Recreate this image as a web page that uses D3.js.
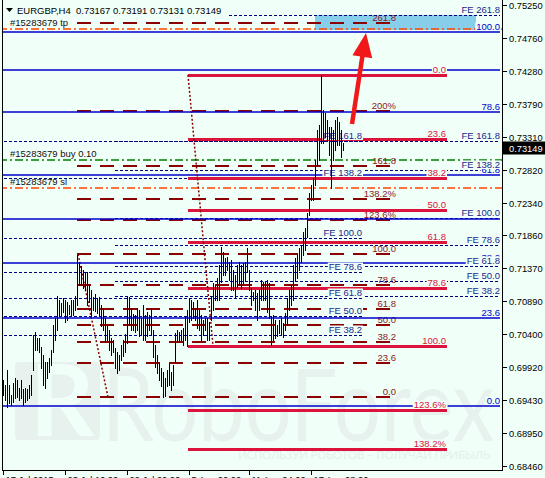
<!DOCTYPE html>
<html><head><meta charset="utf-8">
<script src="https://d3js.org/d3.v7.min.js"></script>
<style>html,body{margin:0;padding:0;background:#F0FFF8;overflow:hidden}svg{display:block}</style>
</head><body>
<svg id="chart" width="545" height="478"></svg>
<script>
// ---------------- DATA ----------------
const barHigh=[0.6973,0.6965,0.6987,0.6965,0.6951,0.6968,0.6976,0.6973,0.6961,0.6973,
0.6959,0.6961,0.6959,0.6965,0.6980,0.7039,0.7043,0.7035,0.7035,0.7021,
0.7010,0.6999,0.6999,0.7005,0.7017,0.7054,0.7064,0.7096,0.7091,0.7086,
0.7093,0.7091,0.7088,0.7083,0.7091,0.7091,0.7096,0.7157,0.7147,0.7141,
0.7135,0.7132,0.7132,0.7113,0.7105,0.7095,0.7099,0.7093,0.7095,0.7083,
0.7079,0.7064,0.7052,0.7046,0.7035,0.7032,0.7020,0.7014,0.7010,0.7024,
0.7032,0.7040,0.7095,0.7095,0.7079,0.7070,0.7068,0.7079,0.7076,0.7064,
0.7083,0.7068,0.7073,0.7068,0.7079,0.7046,0.7024,0.7010,0.6998,0.6990,
0.6985,0.6976,0.6987,0.6996,0.6985,0.6995,0.7042,0.7046,0.7043,0.7046,
0.7049,0.7065,0.7076,0.7093,0.7091,0.7088,0.7079,0.7091,0.7076,0.7068,
0.7061,0.7064,0.7064,0.7058,0.7096,0.7116,0.7113,0.7123,0.7142,0.7169,
0.7161,0.7152,0.7154,0.7147,0.7149,0.7135,0.7127,0.7142,0.7147,0.7142,
0.7145,0.7147,0.7167,0.7135,0.7108,0.7102,0.7105,0.7101,0.7105,0.7120,
0.7117,0.7117,0.7120,0.7116,0.7065,0.7068,0.7061,0.7054,0.7061,0.7064,
0.7057,0.7071,0.7093,0.7105,0.7113,0.7142,0.7152,0.7157,0.7167,0.7172,
0.7191,0.7196,0.7219,0.7248,0.7260,0.7270,0.7297,0.7341,0.7348,0.7422,
0.7370,0.7366,0.7356,0.7345,0.7345,0.7341,0.7356,0.7360,0.7353,0.7341,
0.7322];
const barLow=[0.6951,0.6943,0.6933,0.6939,0.6936,0.6940,0.6946,0.6948,0.6943,0.6946,
0.6936,0.6940,0.6943,0.6946,0.6951,0.6987,0.7017,0.7017,0.7014,0.6990,
0.6965,0.6961,0.6976,0.6985,0.6995,0.7014,0.7032,0.7046,0.7068,0.7068,
0.7073,0.7058,0.7061,0.7070,0.7067,0.7068,0.7076,0.7083,0.7113,0.7113,
0.7108,0.7105,0.7083,0.7088,0.7067,0.7076,0.7074,0.7071,0.7068,0.7052,
0.7046,0.7029,0.7032,0.7017,0.7010,0.7014,0.6990,0.6983,0.6987,0.7002,
0.7008,0.7014,0.7027,0.7054,0.7046,0.7046,0.7043,0.7046,0.7037,0.7040,
0.7032,0.7032,0.7037,0.7046,0.7039,0.7007,0.6992,0.6983,0.6973,0.6964,
0.6948,0.6949,0.6964,0.6965,0.6958,0.6965,0.6999,0.7029,0.7029,0.7032,
0.7024,0.7032,0.7023,0.7058,0.7061,0.7064,0.7061,0.7049,0.7046,0.7032,
0.7039,0.7046,0.7032,0.7032,0.7061,0.7076,0.7091,0.7091,0.7091,0.7117,
0.7127,0.7127,0.7135,0.7120,0.7105,0.7105,0.7093,0.7110,0.7113,0.7108,
0.7116,0.7120,0.7132,0.7105,0.7083,0.7091,0.7076,0.7061,0.7076,0.7091,
0.7091,0.7091,0.7073,0.7064,0.7024,0.7032,0.7035,0.7037,0.7042,0.7039,
0.7036,0.7046,0.7054,0.7076,0.7083,0.7091,0.7120,0.7123,0.7135,0.7147,
0.7157,0.7164,0.7183,0.7216,0.7238,0.7238,0.7260,0.7289,0.7297,0.7322,
0.7322,0.7331,0.7326,0.7304,0.7255,0.7297,0.7311,0.7319,0.7319,0.7301,
0.7312];

const priceTicks=[0.75250,0.74760,0.74280,0.73790,0.73310,0.72820,0.72340,0.71860,0.71370,0.70890,0.70400,0.69920,0.69430,0.68950,0.68460];
const timeTickBars=[0,31,62,93,123,154];
const timeTickLabels=["17 Jul 2015","23 Jul 16:00","29 Jul 20:00","5 Aug 00:00","11 Aug 04:00","17 Aug 08:00"];
const lastPrice=0.73149;
const titleSymbol="EURGBP,H4";
const titleQuotes=["0.73167","0.73191","0.73131","0.73149"];

// Fibonacci tools: anchors = prices at 0% and 100%; spans in bar indices
const redFibLevels=[0,23.6,38.2,50,61.8,78.6,100,123.6,138.2];
const redFibLabels=["0.0","23.6","38.2","50.0","61.8","78.6","100.0","123.6%","138.2%"];
const redFibAnchors=[0.7422,0.7023];
const redFibBars=[92.5,222];
const redFibTrendBars=[92.5,105];

const maroonFibLevels=[0,23.6,38.2,50,61.8,78.6,100,123.6,138.2,161.8,200,261.8];
const maroonFibLabels=["0.0","23.6","38.2","50.0","61.8","78.6","100.0","123.6%","138.2%","161.8","200%","261.8"];
const maroonFibAnchors=[0.69476,0.71583];
const maroonFibBars=[37,196.5];
const maroonFibTrendBars=[52.5,37.5];

const feOuterLevels=[38.2,50,61.8,78.6,100,138.2,161.8,261.8];
const feOuterAnchors=[0.70257,0.72108];
const feOuterStartBars=[56,56,56,56,56,56,56,113];
const feOuterEndBar=248.5;

const feInnerLevels=[38.2,50,61.8,78.6,100,138.2,161.8];
const feInnerAnchors=[0.69506,0.71818];
const feInnerBars=[-2,179.5];

const blueFibLevels=[0,23.6,38.2,50,61.8,78.6,100];
const blueFibLabels=["0.0","23.6","38.2","50.0","61.8","78.6","100.0"];
const blueFibAnchors=[0.69344,0.74853];
const blueFibBars=[-2,248.5];
const blueExtraLevel=0.7429;

const orderPrices=[0.7489,0.7297,0.7255];
const orderLabels=["#15283679 tp","#15283679 buy 0.10","#15283679 sl"];

const targetZone=[0.75103,0.74882];
const targetZoneBars=[156,236.5];
const arrowFrom=[174.5,0.73497];
const arrowTo=[181.5,0.74838];

// ---------------- DRAW ----------------
const BG="#F0FFF8";
const WM="#E7F2EF";
const W=545,H=478;
const FONT="'Liberation Sans', Arial, sans-serif";
const svg=d3.select("#chart");
const x=d3.scaleLinear().domain([0,170]).range([3,343]);
const y=d3.scaleLinear().domain([0.68460,0.75250]).range([466,5]);
const fib=(a,l)=>a[0]+(a[1]-a[0])*l/100;
const cy=p=>Math.round(y(p))+0.5;

svg.append("rect").attr("width",W).attr("height",H).attr("fill",BG);

// watermark
const wm=svg.append("g");
wm.append("rect").attr("x",15).attr("y",362).attr("width",85).attr("height",78).attr("rx",4).attr("fill",WM);
wm.append("text").attr("x",30).attr("y",436).attr("font-family","Lato, sans-serif").attr("font-weight",700)
  .attr("font-size",100).attr("fill",BG).text("R");
wm.append("text").attr("x",102).attr("y",441).attr("font-family","Lato, sans-serif")
  .attr("font-size",100).attr("fill",WM).attr("textLength",392).attr("lengthAdjust","spacingAndGlyphs").text("RoboForex");
wm.append("text").attr("x",238).attr("y",459).attr("font-family","Lato, sans-serif")
  .attr("font-size",12).attr("fill","#E5EFED").attr("textLength",252).attr("lengthAdjust","spacingAndGlyphs").text("ИСПОЛЬЗУЙ РОБОТОВ – ПОЛУЧАЙ ПРИБЫЛЬ");

svg.append("defs").append("clipPath").attr("id","pc").append("rect")
  .attr("x",3).attr("y",0).attr("width",499).attr("height",470);
const g=svg.append("g").attr("clip-path","url(#pc)");

function hline(sel,price,b0,b1,stroke,sw,dash){
  const yy=sw%2===1?cy(price):Math.round(y(price));
  return sel.append("line").attr("x1",x(b0)).attr("x2",x(b1)).attr("y1",yy).attr("y2",yy)
    .attr("stroke",stroke).attr("stroke-width",sw).attr("stroke-dasharray",dash||null);
}
function label(sel,text,xr,price,color,bg,anchor){
  const t=sel.append("text").attr("x",xr).attr("y",Math.round(y(price))-2)
    .attr("text-anchor",anchor||"end").attr("font-family",FONT).attr("font-size",9.5)
    .attr("fill",color).text(text);
  if(bg){
    const bb=t.node().getBBox();
    sel.insert("rect",()=>t.node()).attr("x",bb.x-1).attr("y",bb.y+1.5)
      .attr("width",bb.width+2).attr("height",bb.height-2.5).attr("fill",BG);
  }
  return t;
}

// target zone
g.append("rect").attr("x",x(targetZoneBars[0])).attr("y",y(targetZone[0]))
  .attr("width",x(targetZoneBars[1])-x(targetZoneBars[0])).attr("height",y(targetZone[1])-y(targetZone[0]))
  .attr("fill","#87CEEB");

// order lines
const orderColors=["#FF4500","#008000","#FF4500"];
orderPrices.forEach((p,i)=>{
  hline(g,p,-2,250,orderColors[i],1.5,"8,3,2,3");
  g.append("text").attr("x",10).attr("y",Math.round(y(p))-3).attr("font-family",FONT)
    .attr("font-size",9.5).attr("fill","#111").text(orderLabels[i]);
});

// maroon fib (labels drawn without background)
const MAROON="#8B0000";
maroonFibLevels.forEach((l,i)=>{
  const p=fib(maroonFibAnchors,l);
  hline(g,p,maroonFibBars[0],maroonFibBars[1],MAROON,2,"14,9");
  label(g,maroonFibLabels[i],x(maroonFibBars[1]),p,"#8B1A1A",false);
});
g.append("line").attr("x1",x(maroonFibTrendBars[0])).attr("y1",y(maroonFibAnchors[0]))
  .attr("x2",x(maroonFibTrendBars[1])).attr("y2",y(maroonFibAnchors[1]))
  .attr("stroke",MAROON).attr("stroke-width",1.5).attr("stroke-dasharray","2,2");

// FE lines
const NAVY="#000080";
feInnerLevels.forEach(l=>hline(g,fib(feInnerAnchors,l),feInnerBars[0],feInnerBars[1],NAVY,1,"3,2"));
feOuterLevels.forEach((l,i)=>hline(g,fib(feOuterAnchors,l),feOuterStartBars[i],feOuterEndBar,NAVY,1,"3,2"));

// blue fib
const BLUE="#0000CD";
blueFibLevels.forEach(l=>hline(g,fib(blueFibAnchors,l),blueFibBars[0],blueFibBars[1],BLUE,1.5));
hline(g,blueExtraLevel,blueFibBars[0],blueFibBars[1],BLUE,1.5);

// red fib
const RED="#DC143C";
redFibLevels.forEach(l=>hline(g,fib(redFibAnchors,l),redFibBars[0],redFibBars[1],RED,3));
g.append("line").attr("x1",x(redFibTrendBars[0])).attr("y1",y(redFibAnchors[0]))
  .attr("x2",x(redFibTrendBars[1])).attr("y2",y(redFibAnchors[1]))
  .attr("stroke",MAROON).attr("stroke-width",1.5).attr("stroke-dasharray","2,2");

// labels with background
blueFibLevels.forEach((l,i)=>label(g,blueFibLabels[i],500,fib(blueFibAnchors,l),BLUE,true));
redFibLevels.forEach((l,i)=>label(g,redFibLabels[i],x(redFibBars[1])-1,fib(redFibAnchors,l),RED,true));
feInnerLevels.forEach(l=>label(g,"FE "+l.toFixed(1),x(feInnerBars[1]),fib(feInnerAnchors,l),"#1E1E8C",true));
feOuterLevels.forEach(l=>label(g,"FE "+l.toFixed(1),500,fib(feOuterAnchors,l),"#1E1E8C",true));

// bars
g.append("g").selectAll("line").data(barHigh).join("line")
  .attr("x1",(d,i)=>Math.round(x(i))+0.5).attr("x2",(d,i)=>Math.round(x(i))+0.5)
  .attr("y1",d=>Math.round(y(d))).attr("y2",(d,i)=>Math.round(y(barLow[i]))+1)
  .attr("stroke","#000").attr("stroke-width",1);

// arrow
{
  const x0=x(arrowFrom[0]),y0=y(arrowFrom[1]),x1=x(arrowTo[0]),y1=y(arrowTo[1]);
  const dx=x1-x0,dy=y1-y0,len=Math.hypot(dx,dy),ux=dx/len,uy=dy/len;
  const hl=24,hw=10;
  const bx=x1-ux*hl,by=y1-uy*hl;
  g.append("line").attr("x1",x0).attr("y1",y0).attr("x2",bx+ux*2).attr("y2",by+uy*2)
    .attr("stroke","#F01818").attr("stroke-width",4.5);
  g.append("path").attr("d",`M${x1},${y1}L${bx-uy*hw},${by+ux*hw}L${bx+uy*hw},${by-ux*hw}Z`)
    .attr("fill","#F01818");
}

// frame
const ax=svg.append("g").attr("stroke","#000").attr("stroke-width",1);
ax.append("line").attr("x1",2.5).attr("x2",2.5).attr("y1",0).attr("y2",471);
ax.append("line").attr("x1",502.5).attr("x2",502.5).attr("y1",0).attr("y2",471);
ax.append("line").attr("x1",2).attr("x2",503).attr("y1",470.5).attr("y2",470.5);

// y axis
priceTicks.forEach(t=>{
  const yy=cy(t);
  ax.append("line").attr("x1",503).attr("x2",507).attr("y1",yy).attr("y2",yy);
  svg.append("text").attr("x",509).attr("y",yy+3.5).attr("font-family",FONT).attr("font-size",9.3)
    .attr("fill","#000").text(t.toFixed(5));
});
// x axis
timeTickBars.forEach((b,i)=>{
  const xx=Math.round(x(b))+0.5;
  ax.append("line").attr("x1",xx).attr("x2",xx).attr("y1",471).attr("y2",475);
  svg.append("text").attr("x",xx+2).attr("y",483).attr("font-family",FONT).attr("font-size",9.3)
    .attr("fill","#000").text(timeTickLabels[i]);
});
// current price box
{
  const yy=cy(lastPrice);
  svg.append("rect").attr("x",503).attr("y",yy-7).attr("width",42).attr("height",13).attr("fill","#000");
  svg.append("text").attr("x",509).attr("y",yy+3.5).attr("font-family",FONT).attr("font-size",9.3)
    .attr("fill","#fff").text(lastPrice.toFixed(5));
}
// title
svg.append("rect").attr("x",3).attr("y",3).attr("width",206).attr("height",13).attr("fill",BG);
svg.append("path").attr("d","M6,8L13,8L9.5,12Z").attr("fill","#000");
svg.append("text").attr("x",17).attr("y",14).attr("font-family",FONT).attr("font-size",9.5)
  .attr("fill","#000").attr("xml:space","preserve").text(titleSymbol+"  "+titleQuotes.join(" "));
</script>
</body></html>
